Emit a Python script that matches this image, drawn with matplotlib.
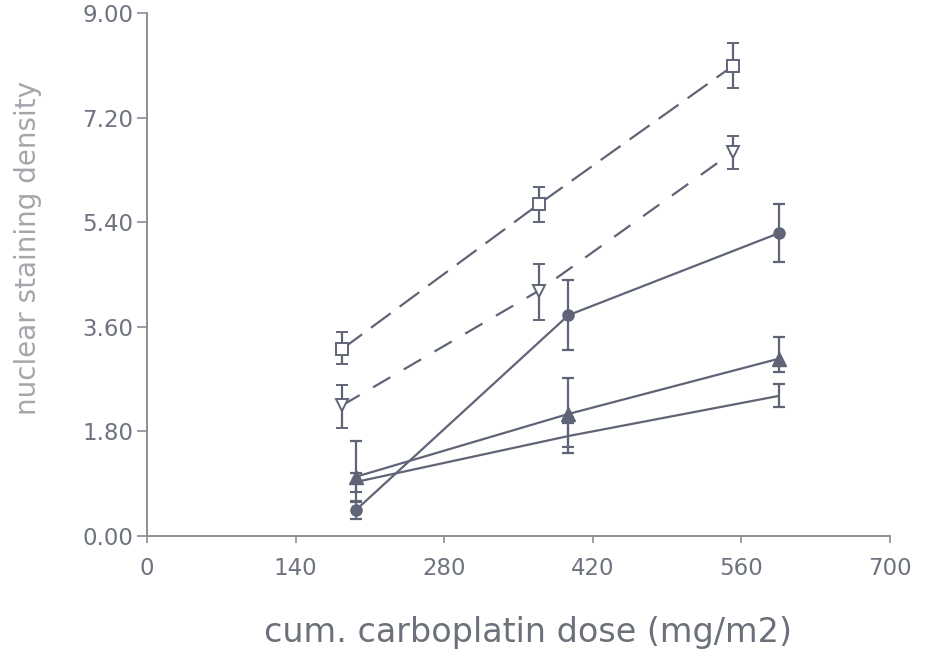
import matplotlib
matplotlib.use('Agg')
import matplotlib.pyplot as plt

# cumulative dose (mg/m2) per series
dose_a = [184, 369, 552]
dose_b = [197, 397, 595]

# open squares, long dashes
sq_y = [3.22, 5.71, 8.09]
sq_lo = [2.96, 5.40, 7.71]
sq_hi = [3.51, 6.01, 8.49]

# open down-triangles, dashed
tri_y = [2.25, 4.22, 6.61]
tri_lo = [1.86, 3.72, 6.32]
tri_hi = [2.60, 4.68, 6.88]

# filled circles, solid
circ_y = [0.45, 3.80, 5.21]
circ_lo = [0.29, 3.20, 4.72]
circ_hi = [0.60, 4.41, 5.71]

# filled up-triangles, solid
up_y = [1.02, 2.10, 3.05]
up_lo = [0.59, 1.53, 2.82]
up_hi = [1.63, 2.72, 3.42]

# plain solid line, no marker
pl_y = [0.93, 1.72, 2.41]
pl_lo = [0.76, 1.43, 2.22]
pl_hi = [1.08, 1.95, 2.62]

xticks = [0, 140, 280, 420, 560, 700]
yticks = [0.0, 1.8, 3.6, 5.4, 7.2, 9.0]

col = '#5f6577'
txt = '#6e7380'

fig = plt.figure(figsize=(9.34, 6.51), dpi=100)
ax = fig.add_axes([0.1574, 0.1767, 0.7956, 0.8033])


def err(y, lo, hi):
    return [[a - b for a, b in zip(y, lo)], [b - a for a, b in zip(y, hi)]]


kw = dict(color=col, ecolor=col, elinewidth=1.6, capsize=4.5, capthick=1.6, lw=1.6)

ax.errorbar(dose_a, sq_y, yerr=err(sq_y, sq_lo, sq_hi), marker='s', ms=9,
            mfc='white', mec=col, mew=1.4, dashes=(11, 5), **kw)
ax.errorbar(dose_a, tri_y, yerr=err(tri_y, tri_lo, tri_hi), marker='v', ms=9,
            mfc='white', mec=col, mew=1.4, dashes=(9, 7), **kw)
ax.errorbar(dose_b, pl_y, yerr=err(pl_y, pl_lo, pl_hi), marker=None, **kw)
ax.errorbar(dose_b, up_y, yerr=err(up_y, up_lo, up_hi), marker='^', ms=10,
            mfc=col, mec=col, **kw)
ax.errorbar(dose_b, circ_y, yerr=err(circ_y, circ_lo, circ_hi), marker='o', ms=8,
            mfc=col, mec=col, **kw)

ax.set_xlim(0, 700)
ax.set_ylim(0, 9)
ax.set_xticks(xticks)
ax.set_xticklabels([str(v) for v in xticks])
ax.set_yticks(yticks)
ax.set_yticklabels([f'{v:.2f}' for v in yticks])

for s in ['top', 'right']:
    ax.spines[s].set_visible(False)
for s in ['left', 'bottom']:
    ax.spines[s].set_color('#8a8e96')
    ax.spines[s].set_linewidth(1.4)

ax.tick_params(axis='both', colors='#8a8e96', labelcolor=txt, labelsize=16.5,
               width=1.2)
ax.tick_params(axis='y', length=7, pad=3)
ax.tick_params(axis='x', length=5, pad=10)

ax.set_xlabel('cum. carboplatin dose (mg/m2)', fontsize=24, color='#6b707a')
ax.xaxis.label.set_va('center')
ax.xaxis.set_label_coords(0.513, -0.185)
ax.set_ylabel('nuclear staining density', fontsize=20, color='#a3a6ab')
ax.yaxis.label.set_va('center')
ax.yaxis.set_label_coords(-0.160, 0.55)

fig.savefig('out.png', dpi=100)
